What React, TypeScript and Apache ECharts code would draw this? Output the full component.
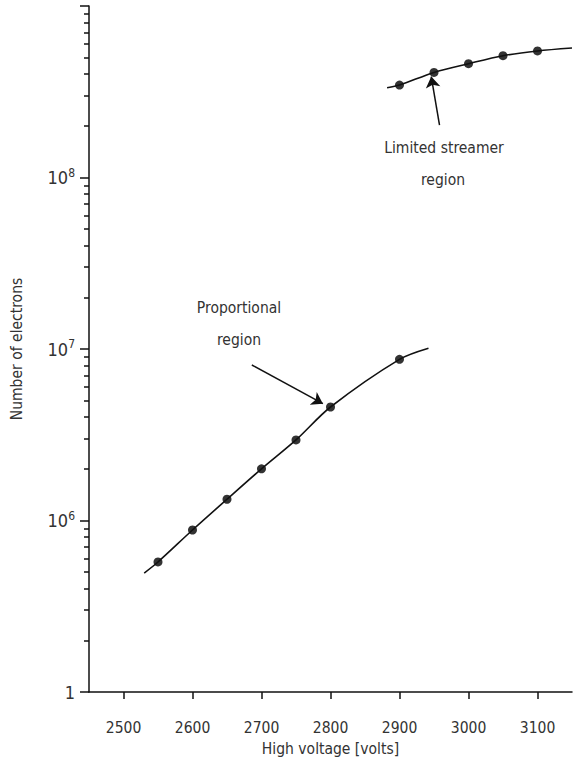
import React, { useEffect, useRef } from "react";
import * as echarts from "echarts";

// ---- axis ranges and ticks ----
const xMin = 2450;
const xMax = 3150;
const xTickValues = [2500, 2600, 2700, 2800, 2900, 3000, 3100];
const yMin = 1e5;
const yMax = 1e9;
const yMinorMultipliers = [2, 3, 4, 5, 6, 7, 8, 9];
const yDecades = [5, 6, 7, 8];

// ---- proportional region ----
const propX = [2550, 2600, 2650, 2700, 2750, 2800, 2900];
const propY = [5.73e5, 8.8e5, 1.33e6, 2.0e6, 2.95e6, 4.59e6, 8.7e6];
const propCurveX = [2530, 2550, 2600, 2650, 2700, 2750, 2800, 2900, 2942];
const propCurveY = [4.94e5, 5.73e5, 8.8e5, 1.33e6, 2.0e6, 2.95e6, 4.59e6, 8.7e6, 1.01e7];

// ---- limited streamer region ----
const strX = [2900, 2950, 3000, 3050, 3100];
const strY = [3.46e8, 4.1e8, 4.61e8, 5.13e8, 5.47e8];
const strCurveX = [2882, 2900, 2950, 3000, 3050, 3100, 3150];
const strCurveY = [3.34e8, 3.46e8, 4.1e8, 4.61e8, 5.13e8, 5.47e8, 5.69e8];

// ---- annotation arrows (data coordinates) ----
const propArrow = [[2686, 8.07e6], [2789, 4.8e6]];
const strArrow = [[2958, 2.02e8], [2946, 3.88e8]];

const FONT = "'DejaVu Sans Condensed', 'Liberation Sans Narrow', sans-serif";
const FS = 15.5;
const TEXT = "#333";
const INK = "#111";

export default function App() {
  const ref = useRef<HTMLDivElement>(null);
  useEffect(() => {
    if (!ref.current) return;
    const chart = echarts.init(ref.current, undefined, { renderer: "svg" });
    const minorLogs: number[] = [];
    yDecades.forEach((d) => yMinorMultipliers.forEach((m) => minorLogs.push(d + Math.log10(m))));

    const zip = (xs: number[], ys: number[]) => xs.map((x, i) => [x, ys[i]]);
    const arrowLine = (pts: number[][]) => ({
      silent: true,
      symbol: ["none", "arrow"],
      symbolSize: 11,
      label: { show: false },
      emphasis: { disabled: true },
      lineStyle: { color: INK, width: 1.5, type: "solid" },
      itemStyle: { color: INK },
      data: [[{ coord: pts[0] }, { coord: pts[1] }]],
    });

    chart.setOption({
      animation: false,
      textStyle: { fontFamily: FONT },
      grid: { left: 89, right: 2, top: 6, bottom: 76 },
      xAxis: {
        type: "value",
        min: xMin,
        max: xMax,
        name: "High voltage [volts]",
        nameLocation: "middle",
        nameGap: 48,
        nameTextStyle: { fontSize: FS, color: TEXT, fontFamily: FONT },
        axisLine: { lineStyle: { color: INK, width: 1.5 } },
        axisTick: { show: true, customValues: xTickValues, length: 7, lineStyle: { color: INK, width: 1.5 } },
        axisLabel: {
          customValues: xTickValues,
          margin: 28,
          fontSize: FS,
          color: TEXT,
          fontFamily: FONT,
          formatter: (v: number) => String(v),
        },
        splitLine: { show: false },
      },
      yAxis: [
        {
          type: "log",
          logBase: 10,
          min: yMin,
          max: yMax,
          name: "Number of electrons",
          nameLocation: "middle",
          nameGap: 64,
          nameTextStyle: { fontSize: FS, color: TEXT, fontFamily: FONT },
          axisLine: { show: true, lineStyle: { color: INK, width: 1.5 } },
          axisTick: { show: true, length: 9, lineStyle: { color: INK, width: 1.5 } },
          axisLabel: {
            margin: 14,
            color: TEXT,
            fontFamily: FONT,
            formatter: (v: number) => {
              const e = Math.round(Math.log10(v));
              if (e === 5) return "{b|1}";
              if (e === 9) return "";
              return `{b|10}{s|${e}}`;
            },
            rich: {
              b: { fontSize: 18, color: TEXT, fontFamily: FONT, lineHeight: 22 },
              s: { fontSize: 12, color: TEXT, fontFamily: FONT, verticalAlign: "top", lineHeight: 22, padding: [0, 0, 8, 0] },
            },
          },
          splitLine: { show: false },
        },
        {
          type: "value",
          min: 5,
          max: 9,
          position: "left",
          axisLine: { show: false },
          axisLabel: { show: false },
          splitLine: { show: false },
          axisTick: { show: true, customValues: minorLogs, length: 5, lineStyle: { color: INK, width: 1.5 } },
        },
      ],
      series: [
        {
          type: "line",
          data: zip(propCurveX, propCurveY),
          smooth: 0.3,
          showSymbol: false,
          symbol: "none",
          lineStyle: { color: INK, width: 1.6 },
          silent: true,
          markLine: arrowLine(propArrow),
        },
        {
          type: "line",
          data: zip(strCurveX, strCurveY),
          smooth: 0.3,
          showSymbol: false,
          symbol: "none",
          lineStyle: { color: INK, width: 1.6 },
          silent: true,
          markLine: arrowLine(strArrow),
        },
        {
          type: "scatter",
          data: zip(propX, propY),
          symbolSize: 9,
          itemStyle: { color: "#000" },
          silent: true,
        },
        {
          type: "scatter",
          data: zip(strX, strY),
          symbolSize: 9,
          itemStyle: { color: "#000" },
          silent: true,
        },
      ],
      graphic: [
        { type: "text", x: 239, y: 308, style: { text: "Proportional", fontSize: FS, fill: TEXT, fontFamily: FONT, textAlign: "center", textVerticalAlign: "middle" } },
        { type: "text", x: 239, y: 340, style: { text: "region", fontSize: FS, fill: TEXT, fontFamily: FONT, textAlign: "center", textVerticalAlign: "middle" } },
        { type: "text", x: 444, y: 148, style: { text: "Limited streamer", fontSize: FS, fill: TEXT, fontFamily: FONT, textAlign: "center", textVerticalAlign: "middle" } },
        { type: "text", x: 443, y: 180, style: { text: "region", fontSize: FS, fill: TEXT, fontFamily: FONT, textAlign: "center", textVerticalAlign: "middle" } },
      ],
    });
    return () => chart.dispose();
  }, []);
  return <div ref={ref} style={{ width: 574, height: 768, position: "absolute", left: 0, top: 0 }} />;
}
